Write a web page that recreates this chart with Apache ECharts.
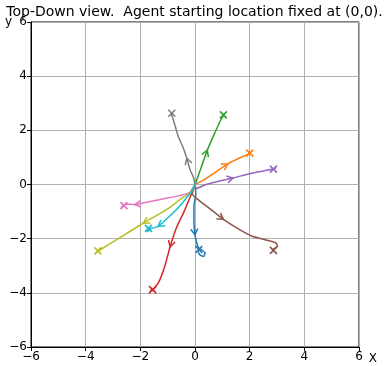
<!DOCTYPE html>
<html>
<head>
<meta charset="utf-8">
<script src="https://cdn.jsdelivr.net/npm/echarts@6/dist/echarts.min.js"></script>
<style>
  html, body { margin: 0; padding: 0; background: #fff; }
  #chart { width: 389px; height: 366px; }
</style>
</head>
<body>
<div id="chart"></div>
<script>
// Axis ticks
const xTicks = [-6, -4, -2, 0, 2, 4, 6];
const yTicks = [-6, -4, -2, 0, 2, 4, 6];

// Agent trajectories, each starting at (0,0); last point is the final position
const blueTrack = [[0,0],[0.03,-0.35],[-0.04,-0.8],[-0.04,-1.3],[0,-1.86],[0.06,-2.15],[0.12,-2.32],[0.25,-2.42],[0.37,-2.52],[0.32,-2.66],[0.18,-2.6],[0.1,-2.45],[0.14,-2.4]];
const orangeTrack = [[0,0],[0.3,0.15],[0.7,0.42],[1.2,0.76],[1.6,0.97],[1.95,1.12],[2.05,1.2],[1.95,1.15],[2.0,1.16]];
const greenTrack = [[0,0],[0.2,0.55],[0.45,1.27],[0.7,1.85],[0.95,2.4],[1.05,2.55],[1.0,2.5],[1.04,2.57]];
const redTrack = [[0,0],[-0.15,-0.4],[-0.4,-1.0],[-0.68,-1.6],[-0.91,-2.3],[-1.1,-3.0],[-1.3,-3.55],[-1.5,-3.85],[-1.62,-3.9],[-1.5,-3.92],[-1.55,-3.88]];
const purpleTrack = [[0,0],[0.05,-0.15],[0.4,0.0],[0.9,0.13],[1.39,0.24],[2.0,0.4],[2.5,0.5],[2.85,0.57],[2.95,0.6],[2.84,0.55],[2.87,0.57]];
const brownTrack = [[0,0],[-0.1,-0.35],[0.1,-0.55],[0.55,-0.9],[1.04,-1.29],[1.6,-1.65],[2.07,-1.9],[2.6,-2.05],[2.95,-2.15],[3.02,-2.27],[2.85,-2.4],[2.87,-2.43]];
const pinkTrack = [[0,0],[-0.2,-0.3],[-0.6,-0.42],[-1.1,-0.52],[-1.6,-0.62],[-2.2,-0.74],[-2.55,-0.72],[-2.7,-0.86],[-2.5,-0.7],[-2.6,-0.78]];
const grayTrack = [[0,0],[-0.05,0.25],[-0.18,0.54],[-0.3,0.97],[-0.45,1.4],[-0.61,1.76],[-0.79,2.38],[-0.88,2.62],[-0.8,2.58],[-0.85,2.63]];
const oliveTrack = [[0,0],[-0.15,-0.3],[-0.4,-0.45],[-1.0,-0.9],[-1.89,-1.43],[-2.7,-1.93],[-3.45,-2.4],[-3.6,-2.5],[-3.5,-2.38],[-3.55,-2.45]];
const cyanTrack = [[0,0],[0.05,0.1],[-0.05,-0.1],[-0.2,-0.35],[-0.7,-0.95],[-1.35,-1.55],[-1.6,-1.62],[-1.75,-1.75],[-1.65,-1.55],[-1.7,-1.62]];

// Which point of each track carries the direction arrow
const arrowIndex = [4, 3, 2, 4, 4, 4, 5, 3, 4, 5];

const tracks = [blueTrack, orangeTrack, greenTrack, redTrack, purpleTrack,
                brownTrack, pinkTrack, grayTrack, oliveTrack, cyanTrack];
const colors = ['#1f77b4', '#ff7f0e', '#2ca02c', '#d62728', '#9467bd',
                '#8c564b', '#e377c2', '#7f7f7f', '#bcbd22', '#17becf'];

const series = [];
tracks.forEach((track, k) => {
  const color = colors[k];
  series.push({
    type: 'line',
    data: track,
    showSymbol: false,
    smooth: 0.15,
    lineStyle: { color: color, width: 1.5 },
    z: 2 + k * 0.01,
    silent: true,
    animation: false
  });
  // Open chevron pointing along the direction of travel
  const i = arrowIndex[k];
  const a = track[i - 1], b = track[i], c = track[i + 1];
  series.push({
    type: 'custom',
    data: [[b[0], b[1], c[0] - a[0], c[1] - a[1]]],
    renderItem: (params, api) => {
      const p = api.coord([api.value(0), api.value(1)]);
      const q = api.coord([api.value(0) + api.value(2), api.value(1) + api.value(3)]);
      const ang = Math.atan2(q[1] - p[1], q[0] - p[0]);
      const L = 7, s = Math.PI / 6;
      const p1 = [p[0] - L * Math.cos(ang - s), p[1] - L * Math.sin(ang - s)];
      const p2 = [p[0] - L * Math.cos(ang + s), p[1] - L * Math.sin(ang + s)];
      return { type: 'polyline', shape: { points: [p1, p, p2] },
               style: { stroke: color, lineWidth: 1.5, fill: null } };
    },
    z: 3,
    silent: true,
    animation: false
  });
  // Final position marked with an x
  const end = track[track.length - 1];
  series.push({
    type: 'custom',
    data: [end],
    renderItem: (params, api) => {
      const p = api.coord([api.value(0), api.value(1)]);
      const r = 3.5;
      return { type: 'group', children: [
        { type: 'line', shape: { x1: p[0] - r, y1: p[1] - r, x2: p[0] + r, y2: p[1] + r },
          style: { stroke: color, lineWidth: 1.6 } },
        { type: 'line', shape: { x1: p[0] - r, y1: p[1] + r, x2: p[0] + r, y2: p[1] - r },
          style: { stroke: color, lineWidth: 1.6 } }
      ] };
    },
    z: 3,
    silent: true,
    animation: false
  });
});

const labelStyle = { fontFamily: 'DejaVu Sans', fontSize: 12, color: '#000' };
const minusFormatter = v => String(v).replace('-', '\u2212');

const chart = echarts.init(document.getElementById('chart'), null, { renderer: 'canvas' });
chart.setOption({
  animation: false,
  backgroundColor: '#fff',
  title: {
    text: 'Top-Down view.  Agent starting location fixed at (0,0).',
    left: 'center',
    top: 0,
    textStyle: { fontFamily: 'DejaVu Sans', fontSize: 14, fontWeight: 'normal', color: '#000' }
  },
  grid: { left: 31, right: 30, top: 22, bottom: 19, show: true, borderColor: '#000', borderWidth: 1, backgroundColor: 'transparent' },
  xAxis: {
    type: 'value',
    min: xTicks[0], max: xTicks[xTicks.length - 1], interval: 2,
    name: 'X', nameLocation: 'end', nameGap: 7,
    nameTextStyle: Object.assign({}, labelStyle, { verticalAlign: 'top', padding: [6, 0, 0, 0] }),
    axisLine: { show: true, onZero: false, lineStyle: { color: '#000', width: 1 } },
    axisTick: { show: true, length: 4, lineStyle: { color: '#000' } },
    axisLabel: Object.assign({}, labelStyle, { margin: 4, formatter: minusFormatter }),
    splitLine: { show: true, lineStyle: { color: '#b0b0b0', width: 1 } }
  },
  yAxis: {
    type: 'value',
    min: yTicks[0], max: yTicks[yTicks.length - 1], interval: 2,
    name: 'y', nameLocation: 'end', nameGap: 0,
    nameTextStyle: Object.assign({}, labelStyle, { align: 'right', verticalAlign: 'middle', padding: [0, 19, 0, 0] }),
    axisLine: { show: true, onZero: false, lineStyle: { color: '#000', width: 1 } },
    axisTick: { show: true, length: 4, lineStyle: { color: '#000' } },
    axisLabel: Object.assign({}, labelStyle, { margin: 4, formatter: minusFormatter }),
    splitLine: { show: true, lineStyle: { color: '#b0b0b0', width: 1 } }
  },
  series: series
});
</script>
</body>
</html>
